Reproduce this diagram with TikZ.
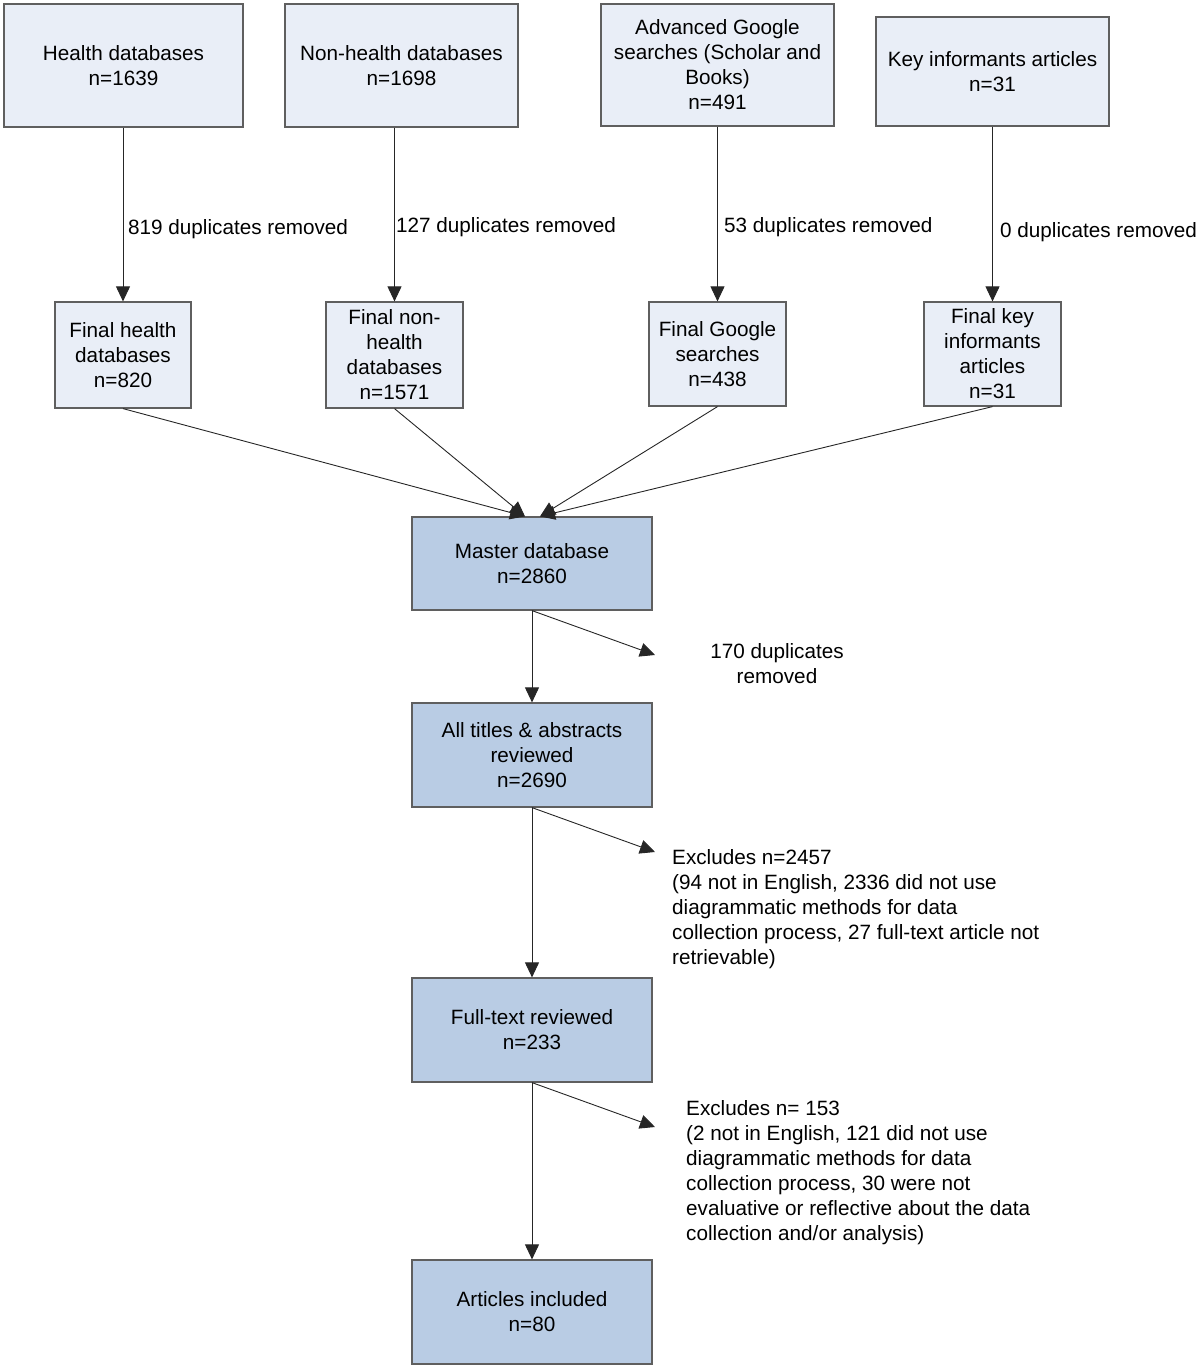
\documentclass[tikz,border=0pt]{standalone}
\usepackage{fontspec}
\setmainfont{Liberation Sans}
\usetikzlibrary{arrows.meta}
\definecolor{lightbox}{RGB}{233,238,247}
\definecolor{darkbox}{RGB}{185,204,228}
\definecolor{boxline}{RGB}{95,95,95}
\begin{document}
\begin{tikzpicture}[x=1pt,y=-1pt,
  every node/.style={font=\fontsize{20.7}{25}\selectfont},
  lbox/.style={draw=boxline, line width=1.2pt, fill=lightbox, align=center, inner sep=0pt},
  dbox/.style={draw=boxline, line width=1.2pt, fill=darkbox, align=center, inner sep=0pt},
  conn/.style={draw=black!85, line width=0.9pt, -{Triangle[length=15pt,width=14pt]}},
  lbl/.style={inner sep=0pt, anchor=west},
  mlbl/.style={inner sep=0pt, anchor=north west, align=left}]
\useasboundingbox (0,0) rectangle (1200,1367);
% top row
\node[lbox, minimum width=239pt, minimum height=123pt] (h1) at (123.5,65.5) {Health databases\\n=1639};
\node[lbox, minimum width=233pt, minimum height=123pt] (h2) at (401.5,65.5) {Non-health databases\\n=1698};
\node[lbox, minimum width=233pt, minimum height=122pt] (h3) at (717.5,65) {Advanced Google\\searches (Scholar and\\Books)\\n=491};
\node[lbox, minimum width=233pt, minimum height=109pt] (h4) at (992.5,71.5) {Key informants articles\\n=31};
% second row
\node[lbox, minimum width=136pt, minimum height=106pt] (f1) at (123,355) {Final health\\databases\\n=820};
\node[lbox, minimum width=137pt, minimum height=106pt] (f2) at (394.5,355) {Final non-\\health\\databases\\n=1571};
\node[lbox, minimum width=137pt, minimum height=104pt] (f3) at (717.5,354) {Final Google\\searches\\n=438};
\node[lbox, minimum width=137pt, minimum height=104pt] (f4) at (992.5,354) {Final key\\informants\\articles\\n=31};
% main column
\node[dbox, minimum width=240pt, minimum height=93pt] (m) at (532,563.5) {Master database\\n=2860};
\node[dbox, minimum width=240pt, minimum height=104pt] (t) at (532,755) {All titles \& abstracts\\reviewed\\n=2690};
\node[dbox, minimum width=240pt, minimum height=104pt] (ft) at (532,1030) {Full-text reviewed\\n=233};
\node[dbox, minimum width=240pt, minimum height=104pt] (a) at (532,1312) {Articles included\\n=80};
% vertical arrows top
\draw[conn] (h1.south -| f1.north) -- (f1.north);
\draw[conn] (h2.south -| f2.north) -- (f2.north);
\draw[conn] (h3.south) -- (f3.north);
\draw[conn] (h4.south) -- (f4.north);
\node[lbl] (l1) at (128,229) {819 duplicates removed};
\node[lbl] (l2) at (396,227) {127 duplicates removed};
\node[lbl] (l3) at (724,227) {53 duplicates removed};
\node[lbl] (l4) at (1000,232) {0 duplicates removed};
% converging
\coordinate (mL) at ([xshift=-7pt]m.north);
\coordinate (mR) at ([xshift=8pt]m.north);
\draw[conn] (f1.south) -- (mL);
\draw[conn] (f2.south) -- (mL);
\draw[conn] (f3.south) -- (mR);
\draw[conn] (f4.south) -- (mR);
% main flow
\draw[conn] (m.south) -- (t.north);
\draw[conn] (t.south) -- (ft.north);
\draw[conn] (ft.south) -- (a.north);
% side arrows
\coordinate (e1) at (655,655);
\coordinate (e2) at (655,852);
\coordinate (e3) at (655,1127);
\draw[conn] (m.south) -- (e1);
\draw[conn] (t.south) -- (e2);
\draw[conn] (ft.south) -- (e3);
\node[inner sep=0pt, align=center] (d1) at (777,664) {170 duplicates\\removed};
\node[mlbl] (x1) at (672,849.5) {Excludes n=2457\\(94 not in English, 2336 did not use\\diagrammatic methods for data\\collection process, 27 full-text article not\\retrievable)};
\node[mlbl] (x2) at (686,1100.5) {Excludes n= 153\\(2 not in English, 121 did not use\\diagrammatic methods for data\\collection process, 30 were not\\evaluative or reflective about the data\\collection and/or analysis)};
\end{tikzpicture}
\end{document}
